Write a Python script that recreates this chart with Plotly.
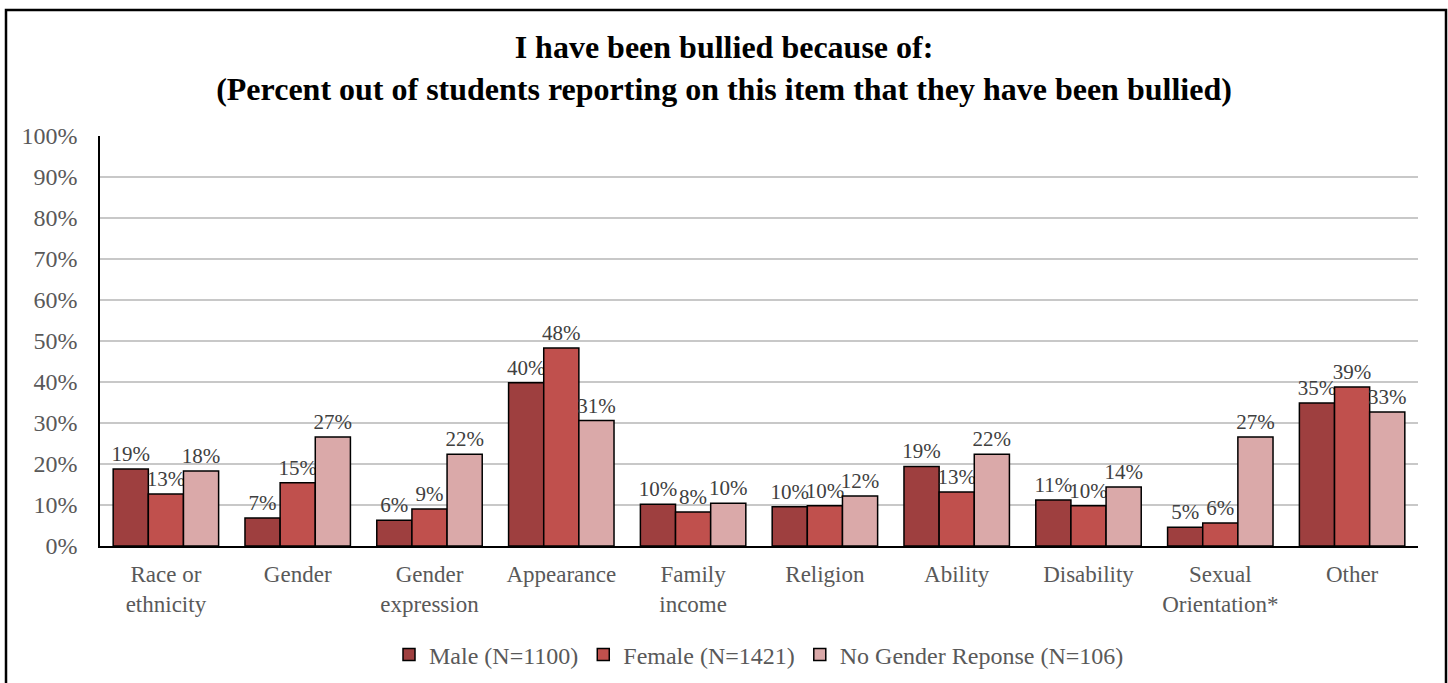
import plotly.graph_objects as go

categories = ["Race or<br>ethnicity", "Gender", "Gender<br>expression", "Appearance",
              "Family<br>income", "Religion", "Ability", "Disability",
              "Sexual<br>Orientation*", "Other"]
male = [18.8, 6.8, 6.3, 39.8, 10.2, 9.6, 19.4, 11.2, 4.6, 34.9]
female = [12.7, 15.4, 9.0, 48.3, 8.3, 9.8, 13.2, 9.8, 5.6, 38.8]
no_gender = [18.3, 26.6, 22.4, 30.6, 10.4, 12.2, 22.4, 14.4, 26.6, 32.7]
series_names = ["Male (N=1100)", "Female (N=1421)", "No Gender Reponse (N=106)"]
colors = ["#9E3F3F", "#C0504D", "#DAA9A9"]

W, H = 1448, 683
ML, MR, MT, MB = 100, 30, 136, 137
FONT = "Liberation Serif, Times New Roman, serif"

fig = go.Figure()
for name, vals, col in zip(series_names, [male, female, no_gender], colors):
    fig.add_trace(go.Bar(
        x=categories, y=vals, name=name,
        marker=dict(color=col, line=dict(color="#000000", width=1.5)),
        text=[f"{v:.0f}%" for v in vals], textposition="outside",
        constraintext="none",
        textfont=dict(family=FONT, size=21, color="#404040"),
        cliponaxis=False,
    ))

pw = W - ML - MR
ph = H - MT - MB
base = H - MB  # pixel row of the plot bottom
fig.update_layout(
    width=W, height=H,
    margin=dict(l=ML, r=MR, t=MT, b=MB, autoexpand=False),
    paper_bgcolor="white", plot_bgcolor="white",
    font=dict(family=FONT, color="#595959"),
    title=dict(
        text="<b>I have been bullied because of:<br>(Percent out of students reporting on this item that they have been bullied)</b>",
        x=0.5, xanchor="center", y=1 - 58 / H, yanchor="middle",
        font=dict(family=FONT, size=32, color="#000000"),
    ),
    barmode="group", bargap=0.2, bargroupgap=0,
    legend=dict(orientation="h", x=0.5, xanchor="center", y=-(655 - base) / ph,
                yanchor="middle",
                font=dict(family=FONT, size=24, color="#595959"),
                traceorder="normal"),
    xaxis=dict(showline=True, linecolor="#000000", linewidth=2, ticks="",
               ticklabelstandoff=6, automargin=False,
               tickfont=dict(family=FONT, size=23, color="#595959"),
               showgrid=False),
    yaxis=dict(range=[0, 100], dtick=10, ticksuffix="%", showgrid=True,
               gridcolor="#C8C8C8", gridwidth=1.5, showline=True,
               linecolor="#000000", linewidth=1.5, ticks="outside", ticklen=16,
               tickcolor="rgba(0,0,0,0)", automargin=False,
               tickfont=dict(family=FONT, size=24, color="#595959"),
               zeroline=False),
    shapes=[dict(type="rect", xref="paper", yref="paper",
                 x0=(6 - ML) / pw, x1=(1446 - ML) / pw,
                 y0=-(H + 10 - base) / ph, y1=(base - 10) / ph,
                 line=dict(color="#000000", width=2.5), layer="below")],
)

fig.write_html("out.html", config={"displayModeBar": False},
               post_script="document.body.style.margin='0';")
